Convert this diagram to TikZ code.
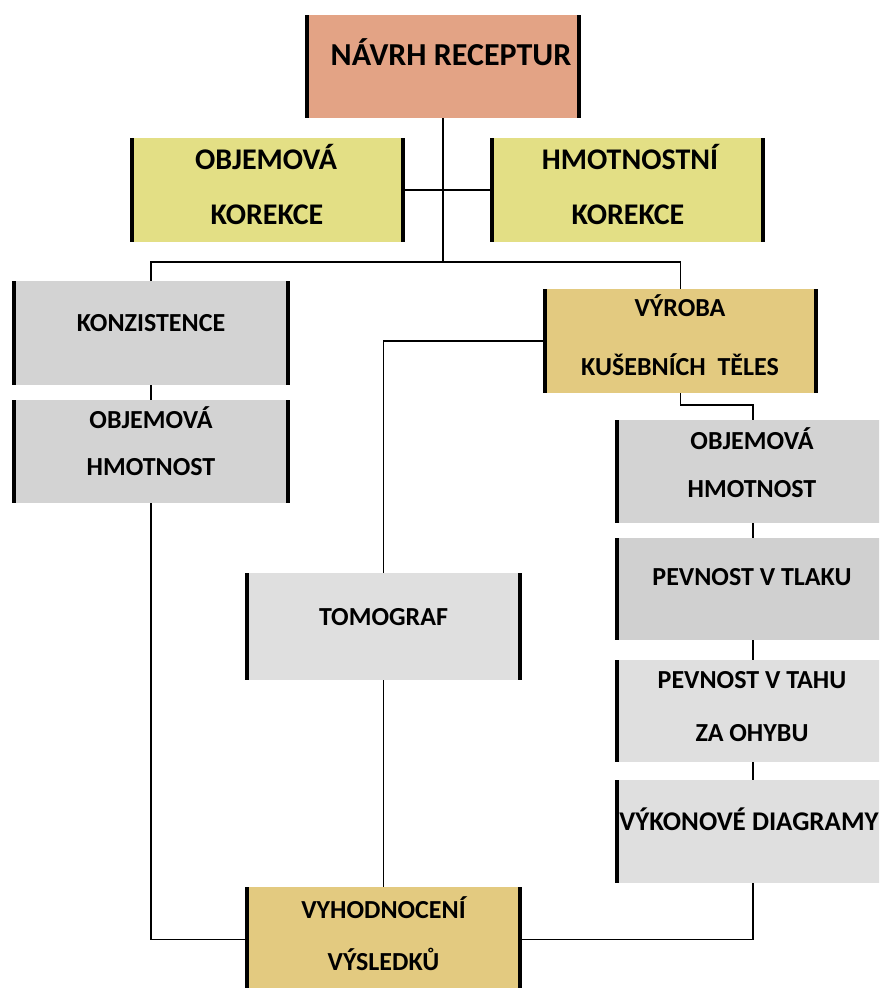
\documentclass[tikz,border=0pt]{standalone}
\usepackage{fontspec}
\setmainfont{Carlito}
\definecolor{salmon}{HTML}{E3A385}
\definecolor{lemon}{HTML}{E3DF85}
\definecolor{tan}{HTML}{E3CA80}
\definecolor{grayA}{HTML}{D3D3D3}
\definecolor{grayB}{HTML}{D0D0D0}
\definecolor{grayC}{HTML}{DFDFDF}
\tikzset{
  boxnode/.style={rectangle, draw=none, inner sep=0pt,
    path picture={
      \fill[black] (path picture bounding box.north west) rectangle ([xshift=4pt]path picture bounding box.south west);
      \fill[black] (path picture bounding box.north east) rectangle ([xshift=-4pt]path picture bounding box.south east);
    }},
  txt/.style={font=\bfseries\fontsize{26}{30}\selectfont, inner sep=0pt, anchor=center, text height=16.5pt, text depth=0pt},
  midtxt/.style={font=\bfseries\fontsize{30}{34}\selectfont, inner sep=0pt, anchor=center, text height=19pt, text depth=0pt},
  bigtxt/.style={font=\bfseries\fontsize{32}{36}\selectfont, inner sep=0pt, anchor=center, text height=20pt, text depth=0pt},
  conn/.style={draw=black, line width=1.6pt}
}
\begin{document}
\begin{tikzpicture}[x=1pt,y=-1pt]
\useasboundingbox (0,0) rectangle (879,988);
\fill[white] (0,0) rectangle (879,988);
\clip (0,0) rectangle (879,988);

% boxes
\node[boxnode, fill=salmon, minimum width=276pt, minimum height=103pt] (nr) at (443,66.5) {};
\node[boxnode, fill=lemon, minimum width=275pt, minimum height=104pt] (ok) at (267.5,190) {};
\node[boxnode, fill=lemon, minimum width=275pt, minimum height=104pt] (hk) at (627.5,190) {};
\node[boxnode, fill=grayA, minimum width=278pt, minimum height=104pt] (kon) at (151,333) {};
\node[boxnode, fill=grayA, minimum width=278pt, minimum height=103pt] (ohl) at (151,451.5) {};
\node[boxnode, fill=tan, minimum width=275pt, minimum height=104pt] (vyr) at (680.5,341) {};
\node[boxnode, fill=grayC, minimum width=277pt, minimum height=107pt] (tom) at (383.5,626.5) {};
\node[boxnode, fill=tan, minimum width=277pt, minimum height=105pt] (vyh) at (383.5,939.5) {};
\node[boxnode, fill=grayA, minimum width=276pt, minimum height=103pt] (ohr) at (753,471.5) {};
\node[boxnode, fill=grayB, minimum width=276pt, minimum height=102pt] (ptl) at (753,589) {};
\node[boxnode, fill=grayC, minimum width=276pt, minimum height=102pt] (pta) at (753,711) {};
\node[boxnode, fill=grayC, minimum width=276pt, minimum height=103pt] (vdi) at (753,831.5) {};

% texts
\node[bigtxt] (t-nr) at (451,55) {NÁVRH RECEPTUR};
\node[midtxt] (t-ok1) at (266,160) {OBJEMOVÁ};
\node[midtxt] (t-ok2) at (267,215) {KOREKCE};
\node[midtxt] (t-hk1) at (630,160) {HMOTNOSTNÍ};
\node[midtxt] (t-hk2) at (628,215) {KOREKCE};
\node[txt] (t-kon) at (151,323) {KONZISTENCE};
\node[txt] (t-ohl1) at (151,420) {OBJEMOVÁ};
\node[txt] (t-ohl2) at (151,467) {HMOTNOST};
\node[txt] (t-vyr1) at (680,308) {VÝROBA};
\node[txt] (t-vyr2) at (680,367) {KUŠEBNÍCH\ \ TĚLES};
\node[txt] (t-ohr1) at (752,441) {OBJEMOVÁ};
\node[txt] (t-ohr2) at (752,489) {HMOTNOST};
\node[txt] (t-ptl) at (752,577) {PEVNOST V TLAKU};
\node[txt] (t-pta1) at (752,680) {PEVNOST V TAHU};
\node[txt] (t-pta2) at (752,733) {ZA OHYBU};
\node[txt, font=\bfseries\fontsize{27}{32}\selectfont] (t-vdi) at (749,822) {VÝKONOVÉ DIAGRAMY};
\node[txt] (t-tom) at (383.5,617) {TOMOGRAF};
\node[txt] (t-vyh1) at (383.5,910) {VYHODNOCENÍ};
\node[txt] (t-vyh2) at (383.5,962) {VÝSLEDKŮ};

% connectors
\coordinate (j) at (443,262);
\coordinate (k) at (680.5,405);
\draw[conn] (nr.south) -- (j);
\draw[conn] (kon.north) |- (j) -| (vyr.north);
\draw[conn] (ok.east) -- (hk.west);
\draw[conn] (kon.south) -- (ohl.north);
\draw[conn] (ohl.south) |- (vyh.west);
\draw[conn] (vyr.west) -| (tom.north);
\draw[conn] (tom.south) -- (vyh.north);
\draw[conn] (vyr.south) -- (k) -| (ohr.north);
\draw[conn] (ohr.south) -- (ptl.north);
\draw[conn] (ptl.south) -- (pta.north);
\draw[conn] (pta.south) -- (vdi.north);
\draw[conn] (vdi.south) |- (vyh.east);
\end{tikzpicture}
\end{document}
